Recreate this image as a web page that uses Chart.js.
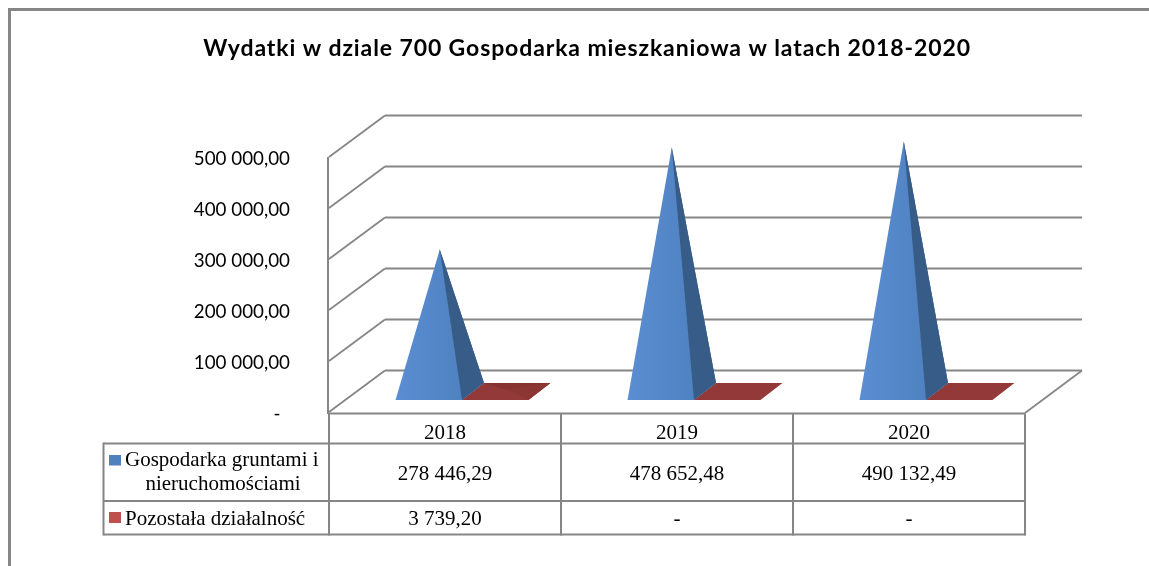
<!DOCTYPE html>
<html lang="pl"><head><meta charset="utf-8">
<style>html,body{margin:0;padding:0;background:#fff}canvas{display:block}</style>
<script src="https://cdn.jsdelivr.net/npm/chart.js@4/dist/chart.umd.js"></script>
</head><body><canvas id="c" width="1149" height="566"></canvas>
<script>
const titleText = 'Wydatki w dziale 700 Gospodarka mieszkaniowa w latach 2018-2020';
const categories = ['2018', '2019', '2020'];
const gospodarkaValues = [278446.29, 478652.48, 490132.49];
const pozostalaValues = [3739.20, 0, 0];
const gospodarkaLabel = ['Gospodarka gruntami i', 'nieruchomościami'];
const pozostalaLabel = ['Pozostała działalność'];
const yTicks = [0, 100000, 200000, 300000, 400000, 500000];

const GRAY = '#868686';
const DEPTH = {dx: 56, dy: -41.5};   // wall / floor depth
const BAR = {shift: 17, lift: 12, dx: 22, dy: -17};

function fmt(v) {
  if (!v) return '-';
  const [a, b] = v.toFixed(2).split('.');
  return a.replace(/\B(?=(\d{3})+$)/g, ' ') + ',' + b;
}

class PyramidController extends Chart.BarController {
  draw() {
    const ctx = this.chart.ctx, ds = this.getDataset();
    const meta = this.getMeta();
    const scale = meta.vScale, zero = scale.getPixelForValue(0);
    meta.data.forEach((bar, i) => {
      const mid = bar.x + BAR.shift;
      const l = mid - bar.width / 2, r = mid + bar.width / 2;
      const fy = zero - BAR.lift, by = fy + BAR.dy;
      const cx = mid + BAR.dx / 2, cy = fy + BAR.dy / 2;
      const ax = cx, ay = cy - (zero - bar.y);
      const poly = (pts, col) => {
        ctx.fillStyle = col; ctx.beginPath();
        pts.forEach((p, k) => k ? ctx.lineTo(p[0], p[1]) : ctx.moveTo(p[0], p[1]));
        ctx.closePath(); ctx.fill();
      };
      const bl = [l + BAR.dx, by], br = [r + BAR.dx, by], fl = [l, fy], fr = [r, fy], a = [ax, ay];
      poly([fl, fr, br, bl], ds.plateColor);
      if (!ds.data[i]) return;
      poly([bl, br, a], ds.backColor);
      poly([fr, br, a], ds.sideColor);
      const g = ctx.createLinearGradient(l, 0, r, 0);
      g.addColorStop(0, ds.frontColors[0]); g.addColorStop(1, ds.frontColors[1]);
      poly([fl, fr, a], g);
    });
  }
}
PyramidController.id = 'pyramid';
PyramidController.defaults = Chart.BarController.defaults;
Chart.register(PyramidController);

const scene = {
  id: 'scene',
  beforeDraw(chart) {
    const ctx = chart.ctx;
    // widen the title slightly, and nudge y tick labels down, as in the picture
    if (chart.titleBlock && !chart.titleBlock._wide) {
      const tb = chart.titleBlock, orig = tb.draw;
      tb._wide = true;
      tb.draw = function () { ctx.save(); ctx.letterSpacing = '0.89px'; orig.apply(tb, arguments); ctx.restore(); };
    }
    const y = chart.scales.y;
    if (!y._nudged) {
      const orig = y.drawLabels;
      y._nudged = true;
      y.drawLabels = function () { ctx.save(); ctx.translate(0, 1.5); orig.apply(y, arguments); ctx.restore(); };
    }
  },
  beforeDatasetsDraw(chart) {
    const {ctx, scales: {y}, chartArea: ca} = chart;
    ctx.save();
    ctx.strokeStyle = GRAY;
    // outer frame
    ctx.lineWidth = 3;
    ctx.beginPath(); ctx.moveTo(1149, 9.5); ctx.lineTo(9.5, 9.5); ctx.lineTo(9.5, 566); ctx.stroke();
    const right = ca.right;
    // back-wall gridlines and wall diagonals
    yTicks.forEach(v => {
      const p = y.getPixelForValue(v);
      ctx.lineWidth = 2;
      ctx.beginPath(); ctx.moveTo(ca.left + DEPTH.dx, p + DEPTH.dy); ctx.lineTo(right + DEPTH.dx + 1, p + DEPTH.dy); ctx.stroke();
      ctx.lineWidth = 1.8;
      ctx.beginPath(); ctx.moveTo(ca.left, p); ctx.lineTo(ca.left + DEPTH.dx, p + DEPTH.dy); ctx.stroke();
    });
    const zero = y.getPixelForValue(0);
    ctx.beginPath(); ctx.moveTo(right, zero + 1); ctx.lineTo(right + DEPTH.dx + 1, zero + DEPTH.dy); ctx.stroke();
    // left wall front edge
    ctx.lineWidth = 2;
    ctx.beginPath(); ctx.moveTo(ca.left - 1, y.getPixelForValue(500000)); ctx.lineTo(ca.left - 1, zero + 2); ctx.stroke();
    ctx.restore();
  },
  afterDatasetsDraw(chart) {
    const {ctx, scales: {x, y}, chartArea: ca} = chart;
    const top = y.getPixelForValue(0) + 1.5, head = 443.5, r1 = 501, bottom = 534.5, tableLeft = 103.5;
    ctx.save();
    ctx.strokeStyle = GRAY; ctx.lineWidth = 2;
    const seg = (a, b, c, d) => { ctx.beginPath(); ctx.moveTo(a, b); ctx.lineTo(c, d); ctx.stroke(); };
    seg(ca.left, top, ca.right, top);
    seg(tableLeft, head, ca.right, head);
    seg(tableLeft, r1, ca.right, r1);
    seg(tableLeft, bottom, ca.right, bottom);
    seg(tableLeft, head - 1, tableLeft, bottom + 1);
    const step = (ca.right - ca.left) / categories.length;
    for (let i = 0; i <= categories.length; i++) seg(ca.left + i * step, top, ca.left + i * step, bottom + 1);
    // cells
    ctx.fillStyle = '#000';
    ctx.font = '21px "Liberation Serif"';
    ctx.textBaseline = 'middle';
    const ds = chart.data.datasets;
    const rowsY = [(head + r1) / 2, (r1 + bottom) / 2];
    ds.forEach((d, row) => {
      ctx.textAlign = 'center';
      d.data.forEach((v, i) => ctx.fillText(fmt(v), x.getPixelForValue(i), rowsY[row] + 2));
    });
    // row headers
    ctx.textAlign = 'left';
    ctx.fillText(gospodarkaLabel[0], 125, 460.5);
    ctx.textAlign = 'center';
    ctx.fillText(gospodarkaLabel[1], 223, 484.5);
    ctx.textAlign = 'left';
    ctx.fillText(pozostalaLabel[0], 125, 519);
    ctx.fillStyle = ds[0].keyColor; ctx.fillRect(109, 455, 12, 10.5);
    ctx.fillStyle = ds[1].keyColor; ctx.fillRect(109, 512, 12, 11);
    ctx.restore();
  }
};

new Chart(document.getElementById('c'), {
  type: 'bar',
  plugins: [scene],
  data: {
    labels: categories,
    datasets: [
      {type: 'pyramid', label: gospodarkaLabel.join(' '), data: gospodarkaValues, clip: false,
       keyColor: '#4F81BD', frontColors: ['#5B8DD3', '#4F82C0'], sideColor: '#375C88', backColor: '#375C88', plateColor: '#375C88',
       categoryPercentage: 0.573, barPercentage: 1},
      {type: 'pyramid', label: pozostalaLabel[0], data: pozostalaValues, clip: false,
       keyColor: '#C0504D', frontColors: ['#94393A', '#94393A'], sideColor: '#8C3634', backColor: '#863331', plateColor: '#94393A',
       categoryPercentage: 0.573, barPercentage: 1}
    ]
  },
  options: {
    responsive: false, animation: false, events: [],
    layout: {padding: {left: 149, right: 124, top: 0, bottom: 0}},
    plugins: {
      legend: {display: false}, tooltip: {enabled: false},
      title: {display: true, text: titleText, color: '#000',
        font: {family: 'Lato', size: 23, weight: 'bold'},
        padding: {top: 35, bottom: 94.4}}
    },
    scales: {
      x: {type: 'category', grid: {display: false}, border: {display: false},
        ticks: {color: '#000', font: {family: '"Liberation Serif"', size: 21}, padding: 1, maxRotation: 0},
        afterFit(s) { s.height = 154; }},
      y: {type: 'linear', min: 0, max: 500000, grid: {display: false}, border: {display: false},
        afterBuildTicks(s) { s.ticks = yTicks.map(v => ({value: v})); },
        afterFit(s) { s.width = 180; },
        ticks: {color: '#000', font: {family: 'Lato', size: 18.8}, padding: 31,
          callback: v => v ? fmt(v) : '-\u00A0\u00A0'}}
    }
  }
});
</script></body></html>
